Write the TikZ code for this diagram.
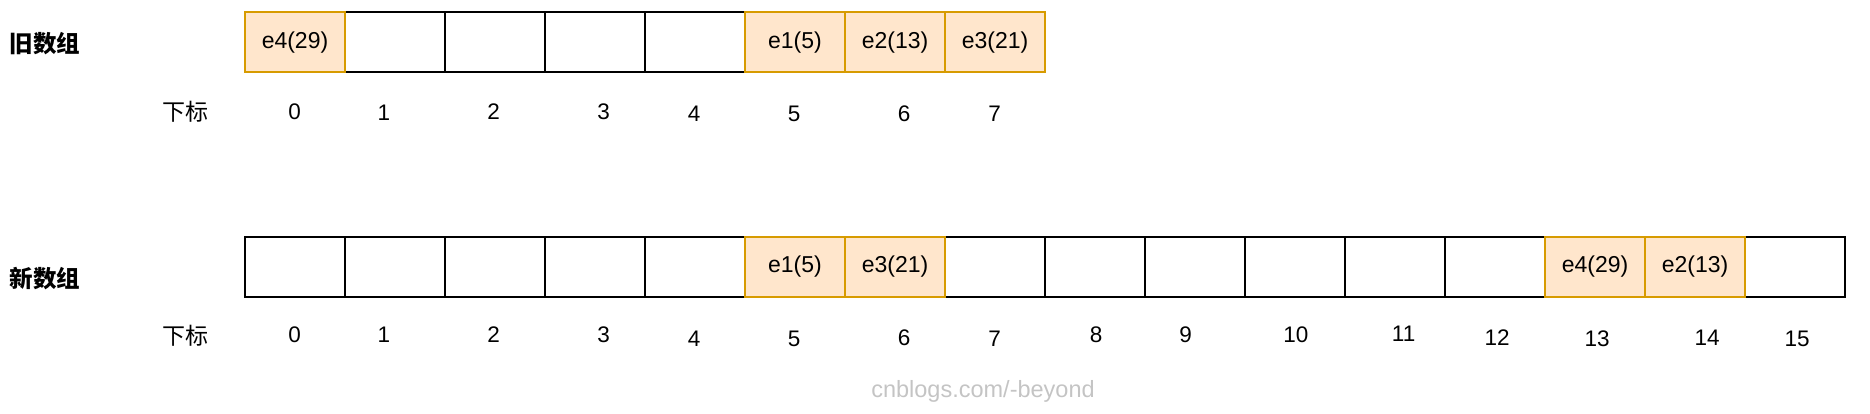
\documentclass[tikz,border=0pt]{standalone}
\usepackage{fontspec}
\setmainfont{Liberation Sans}
\newfontfamily\cjk{Noto Sans CJK SC}
\definecolor{hlfill}{HTML}{FFE6CC}
\definecolor{hlborder}{HTML}{D79B00}
\definecolor{wm}{HTML}{C4C4C4}
\begin{document}
\begin{tikzpicture}[x=1pt,y=-1pt,
  cell/.style={draw=black, line width=2pt, minimum width=100pt, minimum height=60pt, inner sep=0pt, font=\fontsize{23}{27}\selectfont},
  hl/.style={cell, draw=hlborder, fill=hlfill},
  idx/.style={inner sep=0pt, font=\fontsize{22.5}{27}\selectfont},
  title/.style={inner sep=0pt, font=\fontsize{23.5}{28}\selectfont\cjk\bfseries},
  sub/.style={inner sep=0pt, font=\fontsize{23}{28}\selectfont\cjk},
  wmtext/.style={inner sep=0pt, text=wm, font=\fontsize{23.5}{28}\selectfont}]
\useasboundingbox (0,0) rectangle (1870,414);
% old array
\foreach \i in {1,2,3,4} \node[cell] (o\i) at (295+100*\i,42.5) {};
\node[hl] (o0) at (295,42.5) {e4(29)};
\node[hl] (o5) at (795,42.5) {e1(5)};
\node[hl] (o6) at (895,42.5) {e2(13)};
\node[hl] (o7) at (995,42.5) {e3(21)};
% new array
\foreach \i in {0,1,2,3,4,7,8,9,10,11,12,15} \node[cell] (n\i) at (295+100*\i,266.5) {};
\node[hl] (n5) at (795,266.5) {e1(5)};
\node[hl] (n6) at (895,266.5) {e3(21)};
\node[hl] (n13) at (1595,266.5) {e4(29)};
\node[hl] (n14) at (1695,266.5) {e2(13)};
% labels
\node[title] (oldlbl) at (45,44) {旧数组};
\node[title] (newlbl) at (45,279) {新数组};
\node[sub] (oldsub) at (185,112) {下标};
\node[sub] (newsub) at (185,336) {下标};
% old indices
\foreach \i/\x/\y in {0/294.6/111.5,1/384/112.5,2/493.7/111.5,3/603.5/111.5,4/694/113.5,5/794/113.5,6/904/113.5,7/994.6/113.5}
  \node[idx] (oi\i) at (\x,\y) {\i};
% new indices
\foreach \i/\x/\y in {0/294.6/335,1/384/335,2/493.7/334.5,3/603.5/335,4/694/338.5,5/794/338.5,6/904/337.5,7/994.6/338.5,8/1096/335,9/1185.6/335,10/1295.8/335,11/1403.6/334,12/1497/337.5,13/1597/338.5,14/1707/337.5,15/1797/338.5}
  \node[idx] (ni\i) at (\x,\y) {\i};
% watermark
\node[wmtext] (wmk) at (983,391) {cnblogs.com/-beyond};
\end{tikzpicture}
\end{document}
